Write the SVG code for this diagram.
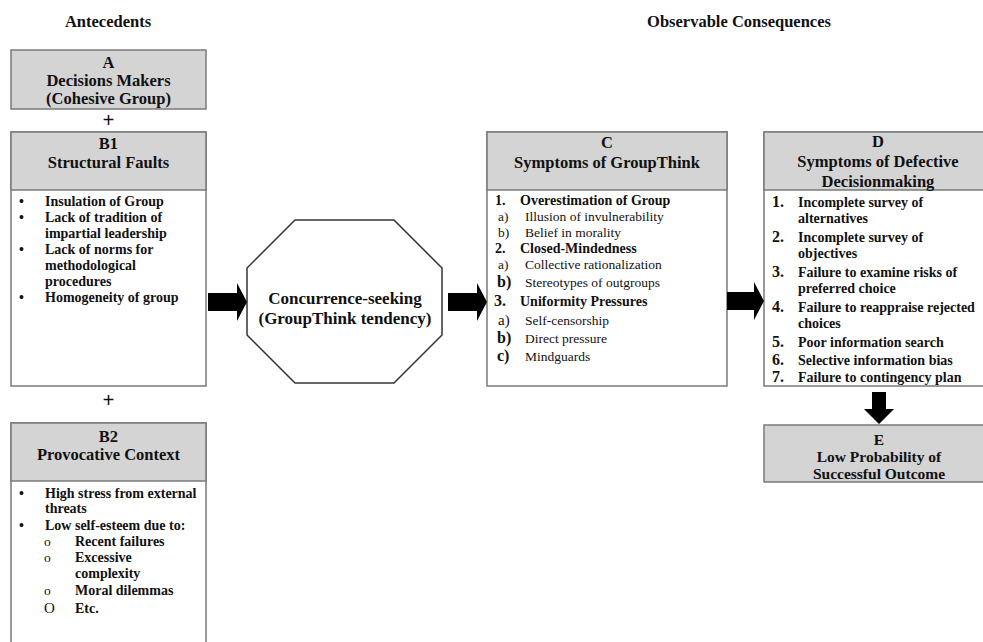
<svg xmlns="http://www.w3.org/2000/svg" width="983" height="642" viewBox="0 0 983 642">
<style>
text{font-family:"Liberation Serif","Times New Roman",serif;fill:#111;}
.h{font-size:16.5px;font-weight:bold;text-anchor:middle;}
.e{font-size:15.5px;font-weight:bold;text-anchor:middle;}
.p{font-size:21px;font-weight:bold;text-anchor:middle;}
.b{font-size:14px;font-weight:bold;}
.r{font-size:13.5px;}
.n{font-size:16px;font-weight:bold;}
.box{fill:#fff;stroke:#7a7a7a;stroke-width:1.5;}
.hd{fill:#d4d4d4;stroke:#7a7a7a;stroke-width:1.5;}
.arr{fill:#000;}
</style>
<rect width="983" height="642" fill="#fff"/>
<text class="h" x="108" y="27">Antecedents</text>
<text class="h" x="739" y="27">Observable Consequences</text>

<g id="A">
<rect class="hd" x="11" y="50" width="195" height="59"/>
<text class="h" x="108.5" y="68">A</text>
<text class="h" x="108.5" y="86">Decisions Makers</text>
<text class="h" x="108.5" y="104">(Cohesive Group)</text>
</g>
<text class="p" x="108.5" y="127">+</text>

<g id="B1">
<rect class="box" x="11" y="132" width="195" height="254"/>
<rect class="hd" x="11" y="132" width="195" height="58"/>
<text class="h" x="108.5" y="149">B1</text>
<text class="h" x="108.5" y="168">Structural Faults</text>
<text class="b" x="19" y="206">•</text><text class="b" x="45" y="206">Insulation of Group</text>
<text class="b" x="19" y="222">•</text><text class="b" x="45" y="222">Lack of tradition of</text>
<text class="b" x="45" y="238">impartial leadership</text>
<text class="b" x="19" y="254">•</text><text class="b" x="45" y="254">Lack of norms for</text>
<text class="b" x="45" y="270">methodological</text>
<text class="b" x="45" y="286">procedures</text>
<text class="b" x="19" y="302">•</text><text class="b" x="45" y="302">Homogeneity of group</text>
</g>
<text class="p" x="108.5" y="407">+</text>

<g id="B2">
<rect class="box" x="11" y="423" width="195" height="230"/>
<rect class="hd" x="11" y="423" width="195" height="58"/>
<text class="h" x="108.5" y="442">B2</text>
<text class="h" x="108.5" y="460">Provocative Context</text>
<text class="b" x="19" y="498">•</text><text class="b" x="45" y="498">High stress from external</text>
<text class="b" x="45" y="513">threats</text>
<text class="b" x="19" y="530">•</text><text class="b" x="45" y="530">Low self-esteem due to:</text>
<text class="r" x="44" y="546">o</text><text class="b" x="75" y="546">Recent failures</text>
<text class="r" x="44" y="562">o</text><text class="b" x="75" y="562">Excessive</text>
<text class="b" x="75" y="578">complexity</text>
<text class="r" x="44" y="595">o</text><text class="b" x="75" y="595">Moral dilemmas</text>
<text class="r" x="44" y="613" style="font-size:15px">O</text><text class="b" x="75" y="613">Etc.</text>
</g>

<g id="concurrence">
<polygon points="295,220 394,220 442,268 442,335 394,383 295,383 247,335 247,268" fill="#fff" stroke="#333" stroke-width="1.5"/>
<text class="h" x="345" y="304" style="font-size:17px">Concurrence-seeking</text>
<text class="h" x="345" y="324" style="font-size:17px">(GroupThink tendency)</text>
</g>

<g id="C">
<rect class="box" x="487" y="132" width="240" height="254"/>
<rect class="hd" x="487" y="132" width="240" height="58"/>
<text class="h" x="607" y="148">C</text>
<text class="h" x="607" y="168">Symptoms of GroupThink</text>
<text class="b" x="495" y="205">1.</text><text class="b" x="520" y="205">Overestimation of Group</text>
<text class="r" x="498" y="221">a)</text><text class="r" x="525" y="221">Illusion of invulnerability</text>
<text class="r" x="498" y="237">b)</text><text class="r" x="525" y="237">Belief in morality</text>
<text class="b" x="495" y="253">2.</text><text class="b" x="520" y="253">Closed-Mindedness</text>
<text class="r" x="498" y="269">a)</text><text class="r" x="525" y="269">Collective rationalization</text>
<text class="n" x="497" y="287">b)</text><text class="r" x="525" y="287">Stereotypes of outgroups</text>
<text class="n" x="494" y="306">3.</text><text class="b" x="520" y="306">Uniformity Pressures</text>
<text class="r" x="498" y="325" style="font-size:15px">a)</text><text class="r" x="525" y="325">Self-censorship</text>
<text class="n" x="497" y="343">b)</text><text class="r" x="525" y="343">Direct pressure</text>
<text class="n" x="497" y="361">c)</text><text class="r" x="525" y="361">Mindguards</text>
</g>

<g id="D">
<rect class="box" x="764" y="132" width="230" height="254"/>
<rect class="hd" x="764" y="132" width="230" height="58"/>
<text class="h" x="878" y="147">D</text>
<text class="h" x="878" y="167">Symptoms of Defective</text>
<text class="h" x="878" y="187">Decisionmaking</text>
<text class="n" x="772" y="207">1.</text><text class="b" x="798" y="207">Incomplete survey of</text>
<text class="b" x="798" y="223">alternatives</text>
<text class="n" x="772" y="242">2.</text><text class="b" x="798" y="242">Incomplete survey of</text>
<text class="b" x="798" y="258">objectives</text>
<text class="n" x="772" y="277">3.</text><text class="b" x="798" y="277">Failure to examine risks of</text>
<text class="b" x="798" y="293">preferred choice</text>
<text class="n" x="772" y="312">4.</text><text class="b" x="798" y="312">Failure to reappraise rejected</text>
<text class="b" x="798" y="328">choices</text>
<text class="n" x="772" y="347">5.</text><text class="b" x="798" y="347">Poor information search</text>
<text class="n" x="772" y="365">6.</text><text class="b" x="798" y="365">Selective information bias</text>
<text class="n" x="772" y="382">7.</text><text class="b" x="798" y="382">Failure to contingency plan</text>
</g>

<g id="E">
<rect class="hd" x="764" y="425" width="230" height="57"/>
<text class="e" x="879" y="445">E</text>
<text class="e" x="879" y="462">Low Probability of</text>
<text class="e" x="879" y="479">Successful Outcome</text>
</g>

<g id="connectors">
<polygon class="arr" points="208,293 237,293 237,283 247,302 237,321 237,311 208,311"/>
<polygon class="arr" points="448,293 477,293 477,283 487,302 477,321 477,311 448,311"/>
<polygon class="arr" points="727,292 754,292 754,282 764,301 754,320 754,310 727,310"/>
<polygon class="arr" points="872,392 886,392 886,409 894,409 879,424 864,409 872,409"/>
</g>
</svg>
